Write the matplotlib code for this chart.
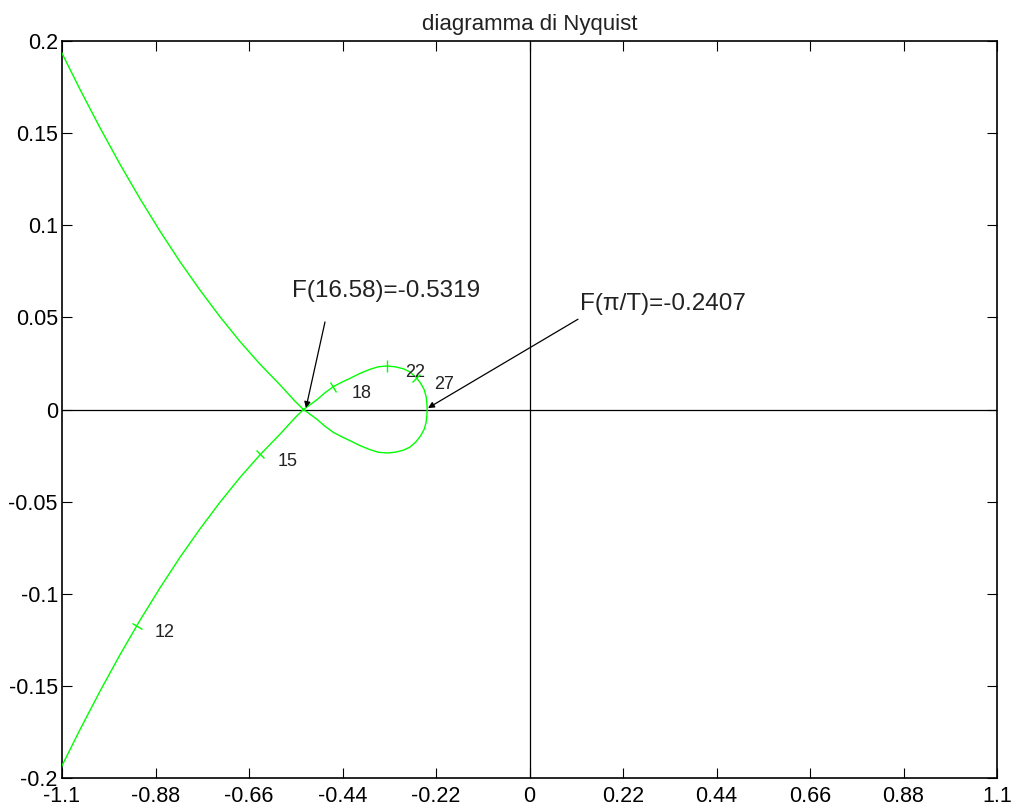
import numpy as np
import matplotlib
matplotlib.use('Agg')
import matplotlib.pyplot as plt
from matplotlib.markers import MarkerStyle
from matplotlib.transforms import Affine2D

# Half of the Nyquist curve (omega from low values up to pi/T)
re_half = [-1.1, -1.0576, -1.0106, -0.9635, -0.9165, -0.8694, -0.8224, -0.7753,
           -0.7282, -0.6812, -0.6341, -0.5871, -0.5518, -0.5319, -0.5007, -0.4812,
           -0.4616, -0.4419, -0.4224, -0.3988, -0.3753, -0.3558, -0.336, -0.3165,
           -0.2969, -0.2812, -0.2671, -0.2560, -0.2475, -0.2432, -0.2415, -0.2407]
im_half = [-0.1933, -0.1737, -0.1529, -0.1331, -0.1144, -0.0968, -0.0802, -0.0648,
           -0.0503, -0.0369, -0.0246, -0.0134, -0.0045, 0.0, 0.0052, 0.0091,
           0.0124, 0.0148, 0.0169, 0.0196, 0.0218, 0.0232, 0.0236, 0.0232,
           0.0221, 0.0204, 0.0175, 0.0142, 0.0106, 0.0069, 0.0034, 0.0]

# Frequency marks along the curve
tick_freq = [12, 15, 18, 22, 27]
tick_re = [-0.924, -0.634, -0.4616, -0.336, -0.2660]
tick_im = [-0.1175, -0.0243, 0.0124, 0.0236, 0.0172]

# Annotated crossings
cross_w_label = '16.58'
cross_re = -0.5319
pi_re = -0.2407

x_ticks = [-1.1, -0.88, -0.66, -0.44, -0.22, 0, 0.22, 0.44, 0.66, 0.88, 1.1]
y_ticks = [-0.2, -0.15, -0.1, -0.05, 0, 0.05, 0.1, 0.15, 0.2]

plt.rcParams['font.family'] = ['Liberation Sans', 'DejaVu Sans']

fig = plt.figure(figsize=(10.14, 8.09), dpi=100)
ax = fig.add_axes([62 / 1014, 31 / 809, 935 / 1014, 737 / 809])

re_h = np.array(re_half)
im_h = np.array(im_half)
re_full = np.concatenate([re_h, re_h[-2::-1]])
im_full = np.concatenate([im_h, -im_h[-2::-1]])

green = '#00ff00'
ax.plot(re_full, im_full, color=green, lw=1.0, zorder=3)

ax.axhline(0, color='k', lw=0.9, zorder=2)
ax.axvline(0, color='k', lw=0.9, zorder=2)

ax.set_xlim(-1.1, 1.1)
ax.set_ylim(-0.2, 0.2)
ax.set_xticks(x_ticks)
ax.set_yticks(y_ticks)
ax.set_xticklabels(['{:g}'.format(v) for v in x_ticks])
ax.set_yticklabels(['{:g}'.format(v) for v in y_ticks])
ax.tick_params(direction='in', length=7, width=0.8, top=True, right=True,
               labelsize=15.5, colors='k')
ax.tick_params(axis='x', pad=6)
ax.tick_params(axis='y', pad=3)
for s in ax.spines.values():
    s.set_linewidth(1.2)

# frequency marks perpendicular to the curve
trans = ax.transData
pts_disp = trans.transform(np.column_stack([re_h, im_h]))
for w, xr, yi in zip(tick_freq, tick_re, tick_im):
    p = trans.transform((xr, yi))
    d = np.hypot(pts_disp[:, 0] - p[0], pts_disp[:, 1] - p[1])
    i = int(np.argmin(d))
    i0 = max(i - 1, 0)
    i1 = min(i + 1, len(re_h) - 1)
    dx, dy = pts_disp[i1] - pts_disp[i0]
    ang = np.degrees(np.arctan2(dy, dx)) + 90
    m = MarkerStyle('_', transform=Affine2D().rotate_deg(ang))
    ax.plot([xr], [yi], marker=m, markersize=8, color=green, mew=1.0,
            linestyle='none', zorder=4)
    ax.annotate(str(w), xy=(xr, yi), xytext=(13, -5), textcoords='offset points',
                fontsize=13, ha='left', va='center', color='#222222')

# annotations
ax.annotate('', xy=(-0.526, 0.0008), xytext=(-0.4812, 0.0475),
            arrowprops=dict(arrowstyle='-|>', color='k', lw=0.9,
                            mutation_scale=9, shrinkA=0, shrinkB=0))
ax.text(-0.56, 0.0643, 'F(' + cross_w_label + ')=' + '{:.4f}'.format(cross_re),
        fontsize=17.5, ha='left', va='center', color='#222222')

ax.annotate('', xy=(-0.2388, 0.0008), xytext=(0.1141, 0.049),
            arrowprops=dict(arrowstyle='-|>', color='k', lw=0.9,
                            mutation_scale=9, shrinkA=0, shrinkB=0))
ax.text(0.1188, 0.0573, 'F(\u03c0/T)=' + '{:.4f}'.format(pi_re),
        fontsize=17.5, ha='left', va='center', color='#222222')

ax.set_title('diagramma di Nyquist', fontsize=16, pad=8, color='#222222')

fig.savefig('out.png', dpi=100)
